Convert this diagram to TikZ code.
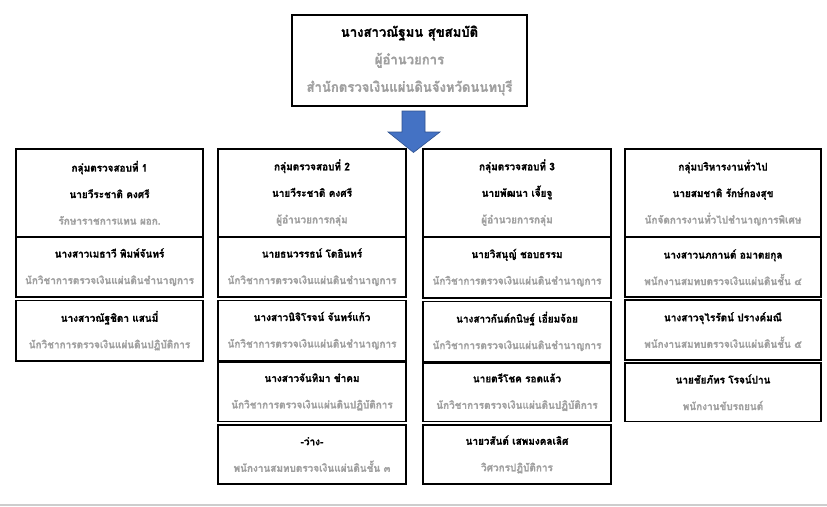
\documentclass[tikz,border=0pt]{standalone}
\usepackage{fontspec}
\newfontfamily\thaifont[Script=Thai, FakeStretch=0.95, BoldFeatures={FakeBold=1}]{Loma}
\definecolor{tgray}{RGB}{160,160,160}
\definecolor{arrowblue}{RGB}{68,114,196}
\definecolor{arrowedge}{RGB}{47,82,143}
\definecolor{rulegray}{RGB}{205,205,205}
\tikzset{
  pbox/.style={draw=black, line width=1.2pt, fill=white, inner sep=0pt, outer sep=0pt,
    anchor=north west, align=center,
    font=\thaifont\fontsize{10.5}{26.5}\selectfont},
  topbox/.style={pbox, font=\thaifont\fontsize{13.8}{27.5}\selectfont},
}
\newcommand{\nm}[1]{{\bfseries #1}}
\newcommand{\rl}[1]{{\bfseries\color{tgray}#1}}
% \orgbox[style]{name}{x1}{y1}{x2}{y2}{content}
\newcommand{\orgbox}[7][pbox]{%
  \pgfmathsetmacro{\bw}{#5-#3}\pgfmathsetmacro{\bh}{#6-#4}%
  \node[#1, minimum width=\bw pt, minimum height=\bh pt] (#2) at (#3,#4) {#7};}
\begin{document}
\begin{tikzpicture}[x=1pt,y=-1pt]
\useasboundingbox (0,0) rectangle (827,506);
\fill[white] (0,0) rectangle (827,506);
% bottom rule
\coordinate (ruleL) at (0,505);
\coordinate (ruleR) at (827,505);
\draw[rulegray, line width=1.2pt] (ruleL) -- (ruleR);

% top box
\orgbox[topbox]{top}{292}{15}{527}{106}{\nm{นางสาวณัฐมน สุขสมบัติ}\\ \rl{ผู้อำนวยการ}\\ \rl{สำนักตรวจเงินแผ่นดินจังหวัดนนทบุรี}}

% column 1
\orgbox{hA}{16}{149}{203}{236.5}{\nm{กลุ่มตรวจสอบที่ 1}\\ \nm{นายวีระชาติ คงศรี}\\ \rl{รักษาราชการแทน ผอก.}}
\orgbox{a1}{16}{237.5}{203}{297}{\nm{นางสาวเมธาวี พิมพ์จันทร์}\\ \rl{นักวิชาการตรวจเงินแผ่นดินชำนาญการ}}
\orgbox{a2}{16}{300.5}{203}{361}{\nm{นางสาวณัฐชิดา แสนมี่}\\ \rl{นักวิชาการตรวจเงินแผ่นดินปฏิบัติการ}}

% column 2
\orgbox{hB}{218}{149}{406}{236.5}{\nm{กลุ่มตรวจสอบที่ 2}\\ \nm{นายวีระชาติ คงศรี}\\ \rl{ผู้อำนวยการกลุ่ม}}
\orgbox{b1}{218}{237.5}{406}{297}{\nm{นายธนวรรธน์ โตอินทร์}\\ \rl{นักวิชาการตรวจเงินแผ่นดินชำนาญการ}}
\orgbox{b2}{218}{300.5}{406}{361}{\nm{นางสาวนิจิโรจน์ จันทร์แก้ว}\\ \rl{นักวิชาการตรวจเงินแผ่นดินชำนาญการ}}
\orgbox{b3}{218}{362.5}{406}{421.5}{\nm{นางสาวจันทิมา ขำคม}\\ \rl{นักวิชาการตรวจเงินแผ่นดินปฏิบัติการ}}
\orgbox{b4}{218}{425}{406}{484}{\nm{-ว่าง-}\\ \rl{พนักงานสมทบตรวจเงินแผ่นดินชั้น ๓}}

% column 3
\orgbox{hC}{423}{149}{611}{236.5}{\nm{กลุ่มตรวจสอบที่ 3}\\ \nm{นายพัฒนา เจี้ยจู}\\ \rl{ผู้อำนวยการกลุ่ม}}
\orgbox{c1}{423}{237.5}{611}{298}{\nm{นายวิสนุญ์ ชอบธรรม}\\ \rl{นักวิชาการตรวจเงินแผ่นดินชำนาญการ}}
\orgbox{c2}{423}{301.5}{611}{361.5}{\nm{นางสาวกันต์กนิษฐ์ เอี่ยมจ้อย}\\ \rl{นักวิชาการตรวจเงินแผ่นดินชำนาญการ}}
\orgbox{c3}{423}{363}{611}{421.5}{\nm{นายตรีโชค รอดแล้ว}\\ \rl{นักวิชาการตรวจเงินแผ่นดินปฏิบัติการ}}
\orgbox{c4}{423}{425}{611}{484}{\nm{นายวสันต์ เสพมงคลเลิศ}\\ \rl{วิศวกรปฏิบัติการ}}

% column 4
\orgbox{hD}{625}{149}{821}{236.5}{\nm{กลุ่มบริหารงานทั่วไป}\\ \nm{นายสมชาติ รักษ์กองสุข}\\ \rl{นักจัดการงานทั่วไปชำนาญการพิเศษ}}
\orgbox{d1}{625}{237.5}{821}{297}{\nm{นางสาวนภกานต์ อมาตยกุล}\\ \rl{พนักงานสมทบตรวจเงินแผ่นดินชั้น ๔}}
\orgbox{d2}{625}{300}{821}{360}{\nm{นางสาวจุไรรัตน์ ปรางค์มณี}\\ \rl{พนักงานสมทบตรวจเงินแผ่นดินชั้น ๕}}
\orgbox{d3}{625}{363}{821}{421.5}{\nm{นายชัยภัทร โรจน์ปาน}\\ \rl{พนักงานขับรถยนต์}}

% arrow
\draw[fill=arrowblue, draw=arrowedge, line width=0.6pt, line join=miter]
  (402,111) -- (425,111) -- (425,132) -- (440,132) -- (413.5,152.5)
  -- (388,132) -- (402,132) -- cycle;
\end{tikzpicture}
\end{document}
